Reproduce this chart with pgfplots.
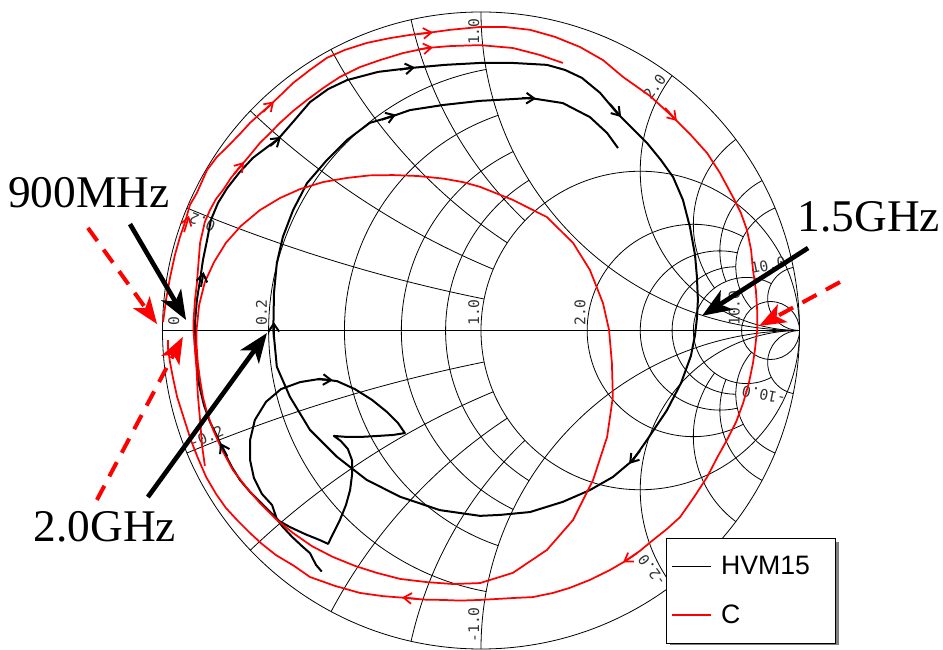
\documentclass[border=0pt]{standalone}
\usepackage{fontspec}
\setmainfont{Liberation Serif}
\setsansfont{Liberation Sans}
\newfontfamily\labelfont{DejaVu Sans Mono}
\usepackage{pgfplots}
\pgfplotsset{compat=1.18}
\usetikzlibrary{arrows.meta}
\pgfdeclarelayer{background}
\pgfsetlayers{background,main}

% one unit of reflection coefficient
\def\U{238.875pt}

\tikzset{
  gridline/.style={black, line width=0.6pt},
  lbl/.style={font=\labelfont\fontsize{11}{13}\selectfont, text=black!80, inner sep=1pt},
}

% constant-resistance circle r=#1, drawn for |x| <= #2
\newcommand{\rcirc}[2]{%
  \pgfmathsetmacro{\gC}{#1/(1+#1)}%
  \pgfmathsetmacro{\gR}{1/(1+#1)}%
  \pgfmathsetmacro{\gD}{(#1+1)*(#1+1)+#2*#2}%
  \pgfmathsetmacro{\gX}{(#1*#1+#2*#2-1)/\gD}%
  \pgfmathsetmacro{\gY}{2*#2/\gD}%
  \pgfmathsetmacro{\gA}{atan2(\gY,\gX-\gC)}%
  \pgfmathsetmacro{\gB}{360-\gA}%
  \draw[gridline] (\gX,\gY) arc[start angle=\gA, end angle=\gB, radius=\gR];%
}
% full constant-resistance circle
\newcommand{\rfull}[1]{%
  \pgfmathsetmacro{\gC}{#1/(1+#1)}%
  \pgfmathsetmacro{\gR}{1/(1+#1)}%
  \draw[gridline] (\gC,0) circle[radius=\gR];%
}
% constant-reactance arcs +#1 and -#1, drawn for r <= #2
\newcommand{\xarc}[2]{%
  \pgfmathsetmacro{\gR}{1/#1}%
  \pgfmathsetmacro{\gX}{(#1*#1-1)/(#1*#1+1)}%
  \pgfmathsetmacro{\gY}{2*#1/(#1*#1+1)}%
  \pgfmathsetmacro{\gA}{mod(atan2(\gY-\gR,\gX-1)+360,360)}%
  \pgfmathsetmacro{\gD}{(#2+1)*(#2+1)+#1*#1}%
  \pgfmathsetmacro{\gEx}{(#2*#2+#1*#1-1)/\gD}%
  \pgfmathsetmacro{\gEy}{2*#1/\gD}%
  \pgfmathsetmacro{\gB}{mod(atan2(\gEy-\gR,\gEx-1)+360,360)}%
  \draw[gridline] (\gX,\gY) arc[start angle=\gA, end angle=\gB, radius=\gR];%
  \draw[gridline] (\gX,-\gY) arc[start angle=-\gA, end angle=-\gB, radius=\gR];%
}
% constant-reactance arcs running into the open-circuit point
\newcommand{\xfull}[1]{%
  \pgfmathsetmacro{\gR}{1/#1}%
  \pgfmathsetmacro{\gX}{(#1*#1-1)/(#1*#1+1)}%
  \pgfmathsetmacro{\gY}{2*#1/(#1*#1+1)}%
  \pgfmathsetmacro{\gA}{mod(atan2(\gY-\gR,\gX-1)+360,360)}%
  \draw[gridline] (\gX,\gY) arc[start angle=\gA, end angle=270, radius=\gR];%
  \draw[gridline] (\gX,-\gY) arc[start angle=-\gA, end angle=-270, radius=\gR];%
}

\begin{document}
\begin{tikzpicture}
\begin{axis}[
  x=\U, y=\U,
  xmin=-1.2, xmax=1.2, ymin=-1.1, ymax=1.1,
  hide axis, clip=false,
  legend style={
    at={(0.7421,0.2041)}, anchor=north west,
    draw=black, line width=0.6pt, fill=white,
    font=\sffamily\fontsize{20}{24}\selectfont,
    inner xsep=4pt, inner ysep=10.5pt, row sep=15pt, column sep=4pt,
    nodes={inner sep=3pt},
  },
  legend cell align=left,
  legend image code/.code={\draw[#1, line width=1pt] (0pt,0pt) -- (29pt,0pt);},
]
\coordinate (O) at (axis cs:0,0);

% HVM15
\addplot[black, line width=1.5pt, line join=round] coordinates {
(-0.500,-0.757) (-0.518,-0.736) (-0.537,-0.699) (-0.562,-0.677) (-0.593,-0.648)
(-0.622,-0.617) (-0.641,-0.592) (-0.656,-0.548) (-0.688,-0.513) (-0.713,-0.463)
(-0.725,-0.407) (-0.725,-0.344) (-0.710,-0.281) (-0.675,-0.224) (-0.628,-0.184)
(-0.568,-0.162) (-0.506,-0.152) (-0.452,-0.159) (-0.396,-0.184) (-0.342,-0.218)
(-0.295,-0.256) (-0.261,-0.290) (-0.239,-0.322) (-0.276,-0.328) (-0.323,-0.331)
(-0.374,-0.334) (-0.424,-0.334) (-0.462,-0.331) (-0.440,-0.347) (-0.418,-0.372)
(-0.405,-0.407) (-0.405,-0.454) (-0.411,-0.501) (-0.424,-0.548) (-0.443,-0.595)
(-0.465,-0.639) (-0.480,-0.670) (-0.506,-0.658) (-0.553,-0.639) (-0.600,-0.617)
(-0.634,-0.598) (-0.662,-0.570) (-0.694,-0.538) (-0.725,-0.507) (-0.757,-0.469)
(-0.782,-0.429) (-0.807,-0.381) (-0.826,-0.338) (-0.851,-0.287) (-0.870,-0.234)
(-0.885,-0.171) (-0.892,-0.108) (-0.898,-0.046) (-0.898,0.002)
(-0.898,0.024) (-0.892,0.096) (-0.882,0.159) (-0.873,0.221) (-0.860,0.284)
(-0.848,0.347) (-0.826,0.400) (-0.797,0.447) (-0.757,0.498) (-0.716,0.542)
(-0.675,0.573) (-0.637,0.601) (-0.590,0.655) (-0.537,0.717) (-0.480,0.758)
(-0.421,0.786) (-0.323,0.812) (-0.223,0.824) (-0.113,0.834) (-0.003,0.840)
(0.100,0.840) (0.207,0.834) (0.264,0.818) (0.317,0.793) (0.374,0.746)
(0.427,0.683) (0.474,0.636) (0.521,0.589) (0.565,0.535) (0.603,0.482)
(0.634,0.410) (0.656,0.325) (0.672,0.237) (0.678,0.168) (0.681,0.096)
(0.678,0.039) (0.672,-0.014) (0.659,-0.080) (0.628,-0.165) (0.584,-0.250)
(0.521,-0.344) (0.477,-0.407) (0.414,-0.460) (0.342,-0.501) (0.257,-0.538)
(0.154,-0.570) (0.060,-0.579) (-0.003,-0.582) (-0.129,-0.564) (-0.254,-0.522)
(-0.359,-0.469) (-0.453,-0.396) (-0.537,-0.312) (-0.600,-0.208) (-0.641,-0.114)
(-0.652,0.002)
(-0.650,0.118) (-0.641,0.212) (-0.622,0.294) (-0.590,0.378) (-0.546,0.463)
(-0.484,0.535) (-0.421,0.598) (-0.349,0.652) (-0.286,0.670) (-0.223,0.692)
(-0.119,0.708) (-0.003,0.721) (0.107,0.727) (0.154,0.730) (0.257,0.714)
(0.342,0.670) (0.396,0.620) (0.430,0.573)
};
\addlegendentry{HVM15\hspace*{12pt}}

% C, main sweep
\addplot[red, line width=1.3pt, line join=round] coordinates {
(-0.998,0.027) (-0.989,0.096) (-0.976,0.168) (-0.961,0.237) (-0.945,0.294)
(-0.929,0.341) (-0.914,0.394) (-0.892,0.432) (-0.860,0.504) (-0.829,0.545)
(-0.797,0.576) (-0.757,0.617) (-0.725,0.652) (-0.694,0.680) (-0.662,0.708)
(-0.625,0.743) (-0.590,0.777) (-0.537,0.818) (-0.484,0.856) (-0.427,0.881)
(-0.358,0.903) (-0.286,0.918) (-0.223,0.928) (-0.170,0.934) (-0.097,0.944)
(-0.003,0.953) (0.075,0.953) (0.154,0.944) (0.232,0.922) (0.311,0.890)
(0.383,0.849) (0.446,0.796) (0.531,0.736) (0.603,0.670) (0.656,0.617)
(0.710,0.557) (0.750,0.495) (0.791,0.419) (0.816,0.369) (0.835,0.316)
(0.848,0.253) (0.854,0.190) (0.863,0.127) (0.867,0.064) (0.867,0.002)
(0.860,-0.061) (0.854,-0.102) (0.841,-0.165) (0.823,-0.228) (0.801,-0.287)
(0.772,-0.344) (0.741,-0.400) (0.710,-0.460) (0.669,-0.523) (0.625,-0.586)
(0.584,-0.623) (0.540,-0.658) (0.499,-0.692) (0.458,-0.721) (0.405,-0.752)
(0.342,-0.783) (0.279,-0.808) (0.226,-0.824) (0.163,-0.837) (0.100,-0.840)
(-0.003,-0.846) (-0.066,-0.848) (-0.119,-0.846) (-0.176,-0.845) (-0.232,-0.840)
(-0.308,-0.834) (-0.380,-0.824) (-0.458,-0.802) (-0.537,-0.774) (-0.587,-0.739)
(-0.644,-0.705) (-0.688,-0.670) (-0.725,-0.636) (-0.766,-0.595) (-0.801,-0.557)
(-0.832,-0.513) (-0.863,-0.460) (-0.889,-0.400) (-0.911,-0.344) (-0.933,-0.275)
(-0.954,-0.209) (-0.967,-0.149) (-0.976,-0.102) (-0.983,-0.055) (-0.983,-0.030)
};
\addlegendentry{C}

% C, inner arc along the top
\addplot[red, line width=1.3pt, line join=round, forget plot] coordinates {
(-0.867,-0.425) (-0.876,-0.360) (-0.882,-0.281) (-0.889,-0.203) (-0.893,-0.124)
(-0.898,-0.061) (-0.903,0.002) (-0.903,0.024) (-0.898,0.096) (-0.892,0.149)
(-0.882,0.275) (-0.867,0.341) (-0.851,0.378) (-0.832,0.413) (-0.810,0.441)
(-0.785,0.479) (-0.757,0.513) (-0.725,0.551) (-0.694,0.589) (-0.662,0.620)
(-0.631,0.652) (-0.590,0.689) (-0.546,0.724) (-0.496,0.761) (-0.443,0.796)
(-0.380,0.827) (-0.317,0.849) (-0.245,0.871) (-0.170,0.887) (-0.097,0.893)
(-0.003,0.896) (0.100,0.887) (0.185,0.865) (0.257,0.840)
};

% C, closed loop
\addplot[red, line width=1.3pt, line join=round, forget plot] coordinates {
(-0.893,0.002) (-0.885,0.080) (-0.867,0.152) (-0.838,0.215) (-0.801,0.275)
(-0.754,0.328) (-0.694,0.378) (-0.631,0.416) (-0.568,0.444) (-0.496,0.466)
(-0.421,0.479) (-0.349,0.487) (-0.276,0.488) (-0.198,0.485) (-0.119,0.477)
(-0.057,0.466) (-0.003,0.451) (0.100,0.410) (0.207,0.356) (0.289,0.275)
(0.342,0.190) (0.383,0.086) (0.402,0.002) (0.411,-0.102) (0.414,-0.209)
(0.396,-0.334) (0.352,-0.469) (0.289,-0.595) (0.207,-0.689) (0.100,-0.761)
(-0.003,-0.793) (-0.088,-0.796) (-0.170,-0.790) (-0.254,-0.780) (-0.327,-0.761)
(-0.396,-0.739) (-0.465,-0.711) (-0.531,-0.677) (-0.590,-0.636) (-0.644,-0.592)
(-0.694,-0.542) (-0.738,-0.491) (-0.779,-0.438) (-0.813,-0.375) (-0.841,-0.312)
(-0.860,-0.259) (-0.873,-0.209) (-0.882,-0.155) (-0.889,-0.102) (-0.893,-0.046)
(-0.893,0.002)
};

% direction marks along the traces
\pgfplotsset{
  blackdir/.style={black, line width=1.5pt, forget plot, -{Straight Barb[length=6pt,width=8pt]}},
  reddir/.style={red, line width=1.3pt, forget plot, -{Straight Barb[length=6pt,width=8pt]}},
}
\addplot[blackdir] coordinates {(-0.879,0.137) (-0.871,0.184)};
\addplot[blackdir] coordinates {(-0.662,0.579) (-0.628,0.608)};
\addplot[blackdir] coordinates {(-0.254,0.819) (-0.207,0.826)};
\addplot[blackdir] coordinates {(0.405,0.711) (0.440,0.670)};
\addplot[blackdir] coordinates {(0.499,-0.378) (0.465,-0.419)};
\addplot[blackdir] coordinates {(-0.797,-0.394) (-0.819,-0.353)};
\addplot[blackdir] coordinates {(-0.512,-0.153) (-0.465,-0.156)};
\addplot[blackdir] coordinates {(-0.311,0.662) (-0.267,0.678)};
\addplot[blackdir] coordinates {(0.129,0.730) (0.173,0.728)};
\addplot[blackdir] coordinates {(-0.650,-0.024) (-0.651,0.027)};
\addplot[reddir] coordinates {(-0.932,0.309) (-0.917,0.360)};
\addplot[reddir] coordinates {(-0.684,0.686) (-0.650,0.719)};
\addplot[reddir] coordinates {(-0.198,0.931) (-0.151,0.936)};
\addplot[reddir] coordinates {(0.578,0.699) (0.615,0.658)};
\addplot[reddir] coordinates {(0.490,-0.699) (0.446,-0.728)};
\addplot[reddir] coordinates {(-0.201,-0.843) (-0.248,-0.838)};
\addplot[reddir] coordinates {(-0.776,0.491) (-0.744,0.529)};
\addplot[reddir] coordinates {(-0.198,0.882) (-0.151,0.889)};

% frequency markers
\draw[black, line width=3.5pt, -{Stealth[length=22pt,width=17pt,inset=6pt]}]
  (axis cs:-1.102,0.334) -- (axis cs:-0.926,0.033);
\draw[black, line width=3.5pt, -{Stealth[length=22pt,width=17pt,inset=6pt]}]
  (axis cs:-1.046,-0.523) -- (axis cs:-0.672,-0.008);
\draw[black, line width=3.5pt, -{Stealth[length=22pt,width=17pt,inset=6pt]}]
  (axis cs:1.027,0.259) -- (axis cs:0.694,0.046);
\draw[red, line width=3pt, dash pattern=on 12pt off 8pt, -{Stealth[length=20pt,width=15pt,inset=5pt]}]
  (axis cs:-1.234,0.322) -- (axis cs:-1.017,0.020);
\draw[red, line width=3pt, dash pattern=on 12pt off 8pt, -{Stealth[length=20pt,width=15pt,inset=5pt]}]
  (axis cs:-1.206,-0.532) -- (axis cs:-0.936,-0.020);
\draw[red, line width=3pt, dash pattern=on 12pt off 8pt, -{Stealth[length=20pt,width=15pt,inset=5pt]}]
  (axis cs:1.127,0.152) -- (axis cs:0.873,0.014);

\node[anchor=west, font=\fontsize{34}{40}\selectfont, inner sep=0pt] at (axis cs:-1.485,0.432) {900MHz};
\node[font=\fontsize{34}{40}\selectfont, inner sep=0pt] at (axis cs:1.218,0.356) {1.5GHz};
\node[font=\fontsize{34}{40}\selectfont, inner sep=0pt] at (axis cs:-1.181,-0.617) {2.0GHz};
\end{axis}

% Smith chart grid, labels and legend shadow
\begin{pgfonlayer}{background}
\fill[black!50] ([shift={(141.75pt,-158.6pt)}]O) rectangle ([shift={(268.5pt,-235.6pt)}]O);
\begin{scope}[shift={(O)}, x=\U, y=\U]
  \draw[gridline] (0,0) circle[radius=1];
  \draw[gridline] (-1,0) -- (1,0);
  \foreach \r in {0.2,0.4,0.6,0.8} {\rcirc{\r}{1}}
  \foreach \r in {2,3,4} {\rcirc{\r}{5}}
  \rcirc{5}{10}
  \foreach \r in {1,10} {\rfull{\r}}
  \foreach \x in {0.2,0.4,0.6,0.8} {\xarc{\x}{1}}
  \foreach \x in {3,4} {\xarc{\x}{5}}
  \xarc{5}{10}
  \foreach \x in {1,2,10} {\xfull{\x}}
  % resistance labels
  \node[lbl, rotate=90, anchor=south west] at (-0.942,0.01) {0};
  \node[lbl, rotate=90, anchor=south west] at (-0.667,0.01) {0.2};
  \node[lbl, rotate=90, anchor=south west] at (0,0.01) {1.0};
  \node[lbl, rotate=90, anchor=south west] at (0.333,0.01) {2.0};
  \node[lbl, rotate=90, anchor=south west] at (0.818,0.01) {10.0};
  % reactance labels
  \node[lbl, rotate=157.38, anchor=south east] at (157.38:0.985) {0.2};
  \node[lbl, rotate=90, anchor=south east] at (90:0.985) {1.0};
  \node[lbl, rotate=53.13, anchor=south east] at (53.13:0.985) {2.0};
  \node[lbl, rotate=11.42, anchor=south east] at (11.42:0.985) {10.0};
  \node[lbl, rotate=22.62, anchor=south west] at (-157.38:0.985) {-0.2};
  \node[lbl, rotate=90, anchor=south west] at (-90:0.985) {-1.0};
  \node[lbl, rotate=126.87, anchor=south west] at (-53.13:0.985) {-2.0};
  \node[lbl, rotate=168.58, anchor=south west] at (-11.42:0.985) {-10.0};
\end{scope}
\end{pgfonlayer}

\pgfresetboundingbox
\path[use as bounding box] ([shift={(-360.75pt,-239.625pt)}]O) rectangle ([shift={(346.5pt,247.875pt)}]O);
\end{tikzpicture}
\end{document}
